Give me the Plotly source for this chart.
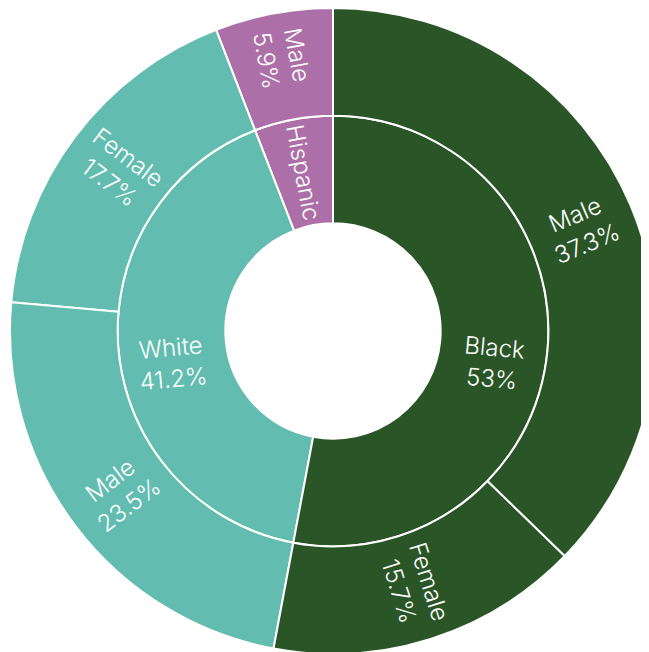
import math
import plotly.graph_objects as go

# ---- data (listed in Plotly's counter-clockwise drawing order, starting at 12 o'clock) ----
ids = ["root", "Hispanic", "White", "Black",
       "Hispanic-Male", "White-Female", "White-Male", "Black-Female", "Black-Male"]
labels = ["", "Hispanic", "White", "Black", "Male", "Female", "Male", "Female", "Male"]
parents = ["", "root", "root", "root", "Hispanic", "White", "White", "Black", "Black"]
values = [100.1, 5.9, 41.2, 53.0, 5.9, 17.7, 23.5, 15.7, 37.3]
texts = ["", "Hispanic", "White<br>41.2%", "Black<br>53%",
         "Male<br>5.9%", "Female<br>17.7%", "Male<br>23.5%", "Female<br>15.7%", "Male<br>37.3%"]

# labels that are drawn as rotated annotations (radial, at the slice's mid-angle)
annot_ids = ["White", "Black", "Black-Male"]

GREEN = "#2a5627"
TEAL = "#62bdb0"
PURPLE = "#ad6fa8"
colors = ["#ffffff", PURPLE, TEAL, GREEN, PURPLE, TEAL, TEAL, GREEN, GREEN]

FONT = dict(color="#ffffff", size=24, family="Inter", weight=300)

# ---- mid-angle of every slice, following the sunburst layout (ccw from 12 o'clock) ----
idx = {i: k for k, i in enumerate(ids)}
start = {"root": 90.0}
span = {"root": 360.0}
level = {"root": 0}
cursor = {"root": 90.0}
for k, i in enumerate(ids):
    if i == "root":
        continue
    p = parents[k]
    sp = span[p] * values[k] / values[idx[p]]
    start[i] = cursor[p]
    span[i] = sp
    cursor[p] += sp
    cursor[i] = start[i]
    level[i] = level[p] + 1

shown_text = [("" if i in annot_ids else t) for i, t in zip(ids, texts)]

fig = go.Figure(go.Sunburst(
    ids=ids, labels=labels, parents=parents, values=values,
    branchvalues="total", sort=False, rotation=90,
    text=shown_text, textinfo="text",
    marker=dict(colors=colors, line=dict(color="#ffffff", width=2)),
    leaf=dict(opacity=1),
    insidetextorientation="radial",
    insidetextfont=FONT,
    hoverinfo="label+value",
))

annotations = []
for i in annot_ids:
    mid = start[i] + span[i] / 2.0
    rr = (level[i] + 0.5) / 6.0  # ring middle, in paper units (outer radius = 0.5)
    a = math.radians(mid)
    m = ((mid + 180) % 360) - 180
    rot = -m if -90 <= m <= 90 else 180 - m
    rot = ((rot + 180) % 360) - 180
    annotations.append(dict(
        x=0.5 + rr * math.cos(a), y=0.5 + rr * math.sin(a),
        xref="paper", yref="paper", xanchor="center", yanchor="middle",
        text=texts[idx[i]], showarrow=False, textangle=rot,
        font=FONT, yshift=-17 if level[i] == 1 else -3,
    ))

fig.update_layout(
    width=648, height=646,
    margin=dict(l=2, r=0, t=0, b=0),
    paper_bgcolor="#ffffff",
    showlegend=False,
    annotations=annotations,
)
fig.write_html("out.html", post_script="document.body.style.overflow='hidden';")
